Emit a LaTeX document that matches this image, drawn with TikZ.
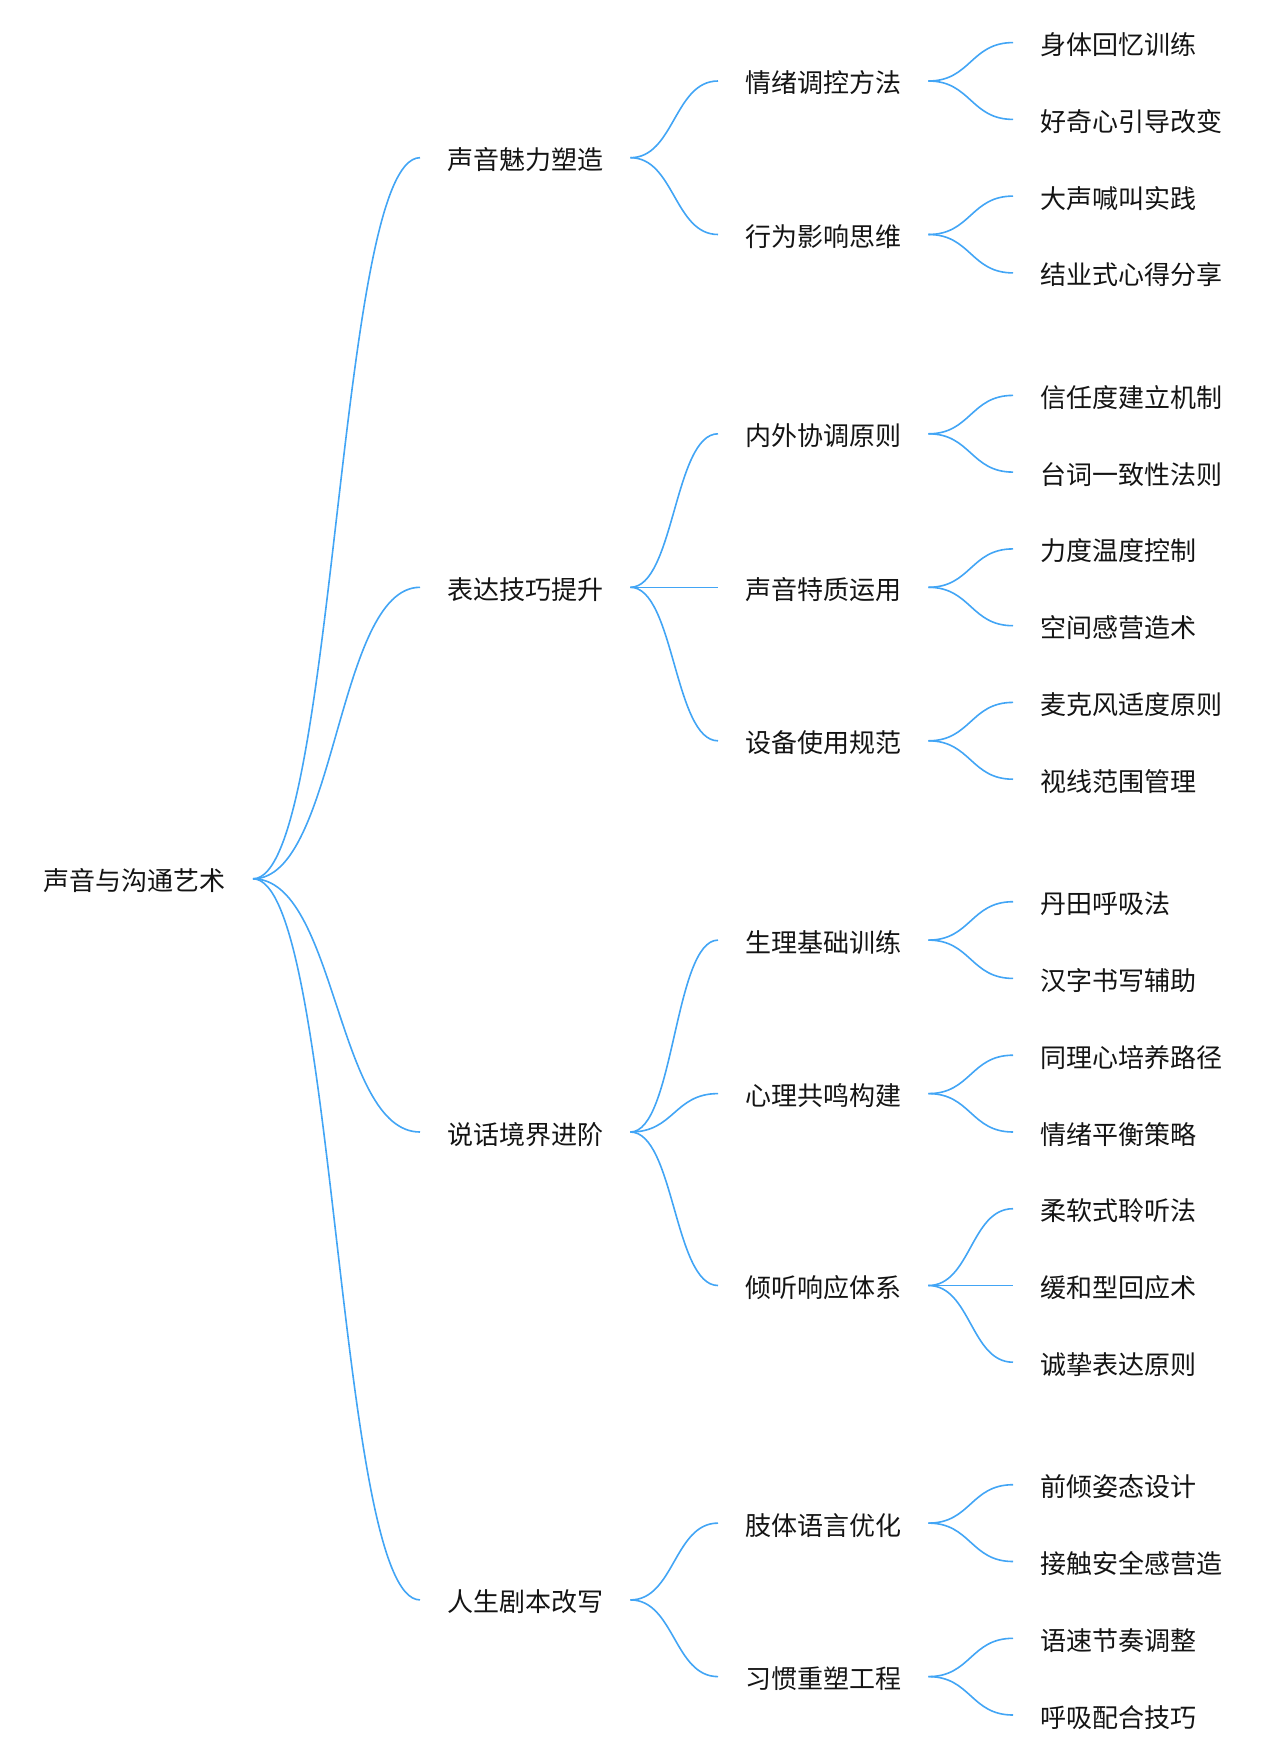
\documentclass[tikz,border=0pt]{standalone}
\usepackage{fontspec}
\setmainfont{Noto Sans CJK SC}
\usetikzlibrary{calc}
\definecolor{linkblue}{RGB}{66,165,245}
\definecolor{txt}{RGB}{20,20,20}
\begin{document}
\begin{tikzpicture}[x=1pt,y=-1pt,
  topic/.style={inner xsep=27pt, inner ysep=0pt, text height=26pt, text depth=2pt, text=txt, font=\fontsize{26pt}{30pt}\selectfont},
  conn/.style={draw=linkblue, line width=1.6pt,
    to path={let \p1=(\tikztostart), \p2=(\tikztotarget) in
      .. controls ({(\x1+\x2)/2},\y1) and ({(\x1+\x2)/2},\y2) .. (\tikztotarget)}}]
\useasboundingbox (0,0) rectangle (1268,1758);

% root
\node[topic, anchor=east] (r) at (253,878.8) {声音与沟通艺术};

% level 1
\node[topic, anchor=west] (a) at (420,157.7) {声音魅力塑造};
\node[topic, anchor=west] (b) at (420,587.3) {表达技巧提升};
\node[topic, anchor=west] (c) at (420,1132.0) {说话境界进阶};
\node[topic, anchor=west] (d) at (420,1599.9) {人生剧本改写};

% level 2
\node[topic, anchor=west] (a1) at (718,81.0) {情绪调控方法};
\node[topic, anchor=west] (a2) at (718,234.5) {行为影响思维};
\node[topic, anchor=west] (b1) at (718,433.8) {内外协调原则};
\node[topic, anchor=west] (b2) at (718,587.3) {声音特质运用};
\node[topic, anchor=west] (b3) at (718,740.8) {设备使用规范};
\node[topic, anchor=west] (c1) at (718,940.1) {生理基础训练};
\node[topic, anchor=west] (c2) at (718,1093.6) {心理共鸣构建};
\node[topic, anchor=west] (c3) at (718,1285.5) {倾听响应体系};
\node[topic, anchor=west] (d1) at (718,1523.1) {肢体语言优化};
\node[topic, anchor=west] (d2) at (718,1676.6) {习惯重塑工程};

% level 3
\node[topic, anchor=west] (a11) at (1013,42.6) {身体回忆训练};
\node[topic, anchor=west] (a12) at (1013,119.4) {好奇心引导改变};
\node[topic, anchor=west] (a21) at (1013,196.1) {大声喊叫实践};
\node[topic, anchor=west] (a22) at (1013,272.9) {结业式心得分享};
\node[topic, anchor=west] (b11) at (1013,395.4) {信任度建立机制};
\node[topic, anchor=west] (b12) at (1013,472.1) {台词一致性法则};
\node[topic, anchor=west] (b21) at (1013,548.9) {力度温度控制};
\node[topic, anchor=west] (b22) at (1013,625.7) {空间感营造术};
\node[topic, anchor=west] (b31) at (1013,702.4) {麦克风适度原则};
\node[topic, anchor=west] (b32) at (1013,779.2) {视线范围管理};
\node[topic, anchor=west] (c11) at (1013,901.7) {丹田呼吸法};
\node[topic, anchor=west] (c12) at (1013,978.4) {汉字书写辅助};
\node[topic, anchor=west] (c21) at (1013,1055.2) {同理心培养路径};
\node[topic, anchor=west] (c22) at (1013,1132.0) {情绪平衡策略};
\node[topic, anchor=west] (c31) at (1013,1208.7) {柔软式聆听法};
\node[topic, anchor=west] (c32) at (1013,1285.5) {缓和型回应术};
\node[topic, anchor=west] (c33) at (1013,1362.2) {诚挚表达原则};
\node[topic, anchor=west] (d11) at (1013,1484.7) {前倾姿态设计};
\node[topic, anchor=west] (d12) at (1013,1561.5) {接触安全感营造};
\node[topic, anchor=west] (d21) at (1013,1638.3) {语速节奏调整};
\node[topic, anchor=west] (d22) at (1013,1715.0) {呼吸配合技巧};

% connectors
\draw[conn] (r.east) to (a.west);
\draw[conn] (r.east) to (b.west);
\draw[conn] (r.east) to (c.west);
\draw[conn] (r.east) to (d.west);

\draw[conn] (a.east) to (a1.west);
\draw[conn] (a.east) to (a2.west);
\draw[conn] (b.east) to (b1.west);
\draw[conn] (b.east) to (b2.west);
\draw[conn] (b.east) to (b3.west);
\draw[conn] (c.east) to (c1.west);
\draw[conn] (c.east) to (c2.west);
\draw[conn] (c.east) to (c3.west);
\draw[conn] (d.east) to (d1.west);
\draw[conn] (d.east) to (d2.west);

\draw[conn] (a1.east) to (a11.west);
\draw[conn] (a1.east) to (a12.west);
\draw[conn] (a2.east) to (a21.west);
\draw[conn] (a2.east) to (a22.west);
\draw[conn] (b1.east) to (b11.west);
\draw[conn] (b1.east) to (b12.west);
\draw[conn] (b2.east) to (b21.west);
\draw[conn] (b2.east) to (b22.west);
\draw[conn] (b3.east) to (b31.west);
\draw[conn] (b3.east) to (b32.west);
\draw[conn] (c1.east) to (c11.west);
\draw[conn] (c1.east) to (c12.west);
\draw[conn] (c2.east) to (c21.west);
\draw[conn] (c2.east) to (c22.west);
\draw[conn] (c3.east) to (c31.west);
\draw[conn] (c3.east) to (c32.west);
\draw[conn] (c3.east) to (c33.west);
\draw[conn] (d1.east) to (d11.west);
\draw[conn] (d1.east) to (d12.west);
\draw[conn] (d2.east) to (d21.west);
\draw[conn] (d2.east) to (d22.west);
\end{tikzpicture}
\end{document}
